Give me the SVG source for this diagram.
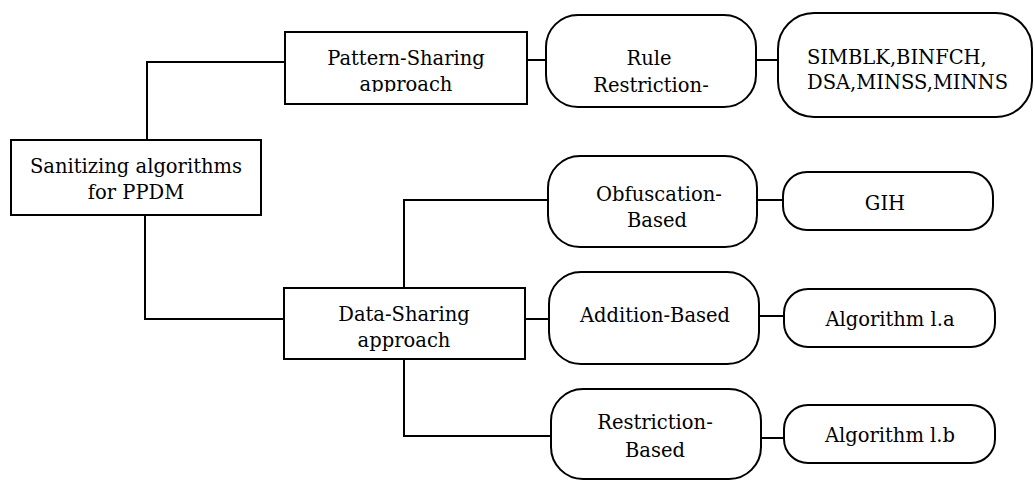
<svg xmlns="http://www.w3.org/2000/svg" width="1035" height="480" viewBox="0 0 1035 480">
<style>
.box{fill:#fff;stroke:#000;stroke-width:2}
.ln{fill:none;stroke:#000;stroke-width:2}
.t{font-family:'DejaVu Serif','Liberation Serif',serif;font-size:19.5px;fill:#000;text-anchor:middle}
.l{text-anchor:start}
</style>
<defs>
<clipPath id="cpPat"><rect x="285" y="32" width="242" height="60"/></clipPath>
</defs>
<rect width="1035" height="480" fill="#fff"/>
<g id="connectors">
<polyline class="ln" points="147,140 147,62 285,62"/>
<polyline class="ln" points="145,215 145,319 285,319"/>
<line class="ln" x1="527" y1="60" x2="546" y2="60"/>
<line class="ln" x1="756" y1="60" x2="778" y2="60"/>
<polyline class="ln" points="404,288 404,200 548,200"/>
<polyline class="ln" points="404,359 404,436 551,436"/>
<line class="ln" x1="525" y1="319" x2="549" y2="319"/>
<line class="ln" x1="757" y1="200" x2="783" y2="200"/>
<line class="ln" x1="759" y1="316" x2="784" y2="316"/>
<line class="ln" x1="761" y1="438" x2="784" y2="438"/>
</g>
<g id="sanitizing">
<rect class="box" x="11" y="140" width="250" height="75"/>
<text class="t" x="136" y="173">Sanitizing algorithms</text>
<text class="t" x="136" y="199">for PPDM</text>
</g>
<g id="pattern">
<rect class="box" x="285" y="32" width="242" height="72"/>
<g clip-path="url(#cpPat)">
<text class="t" x="406" y="65">Pattern-Sharing</text>
<text class="t" x="406" y="91">approach</text>
</g>
</g>
<g id="data">
<rect class="box" x="284" y="288" width="241" height="71"/>
<text class="t" x="404" y="321">Data-Sharing</text>
<text class="t" x="404" y="347">approach</text>
</g>
<g id="rule">
<rect class="box" x="546" y="15" width="210" height="92" rx="32" ry="32"/>
<text class="t" x="649" y="65">Rule</text>
<text class="t" x="651" y="92">Restriction-</text>
</g>
<g id="simblk">
<rect class="box" x="778" y="13" width="254" height="104" rx="36" ry="36"/>
<text class="t l" x="807" y="64">SIMBLK,BINFCH,</text>
<text class="t l" x="807" y="89">DSA,MINSS,MINNS</text>
</g>
<g id="obfuscation">
<rect class="box" x="548" y="156" width="209" height="91" rx="32" ry="32"/>
<text class="t" x="659" y="201">Obfuscation-</text>
<text class="t" x="657" y="227">Based</text>
</g>
<g id="gih">
<rect class="box" x="783" y="172" width="210" height="58" rx="24" ry="24"/>
<text class="t" x="885" y="210">GIH</text>
</g>
<g id="addition">
<rect class="box" x="549" y="272" width="210" height="92" rx="32" ry="32"/>
<text class="t" x="655" y="322">Addition-Based</text>
</g>
<g id="alga">
<rect class="box" x="784" y="289" width="211" height="58" rx="24" ry="24"/>
<text class="t" x="890" y="326">Algorithm l.a</text>
</g>
<g id="restriction">
<rect class="box" x="551" y="389" width="210" height="90" rx="32" ry="32"/>
<text class="t" x="655" y="429">Restriction-</text>
<text class="t" x="655" y="457">Based</text>
</g>
<g id="algb">
<rect class="box" x="784" y="405" width="211" height="58" rx="24" ry="24"/>
<text class="t" x="890" y="442">Algorithm l.b</text>
</g>
</svg>
